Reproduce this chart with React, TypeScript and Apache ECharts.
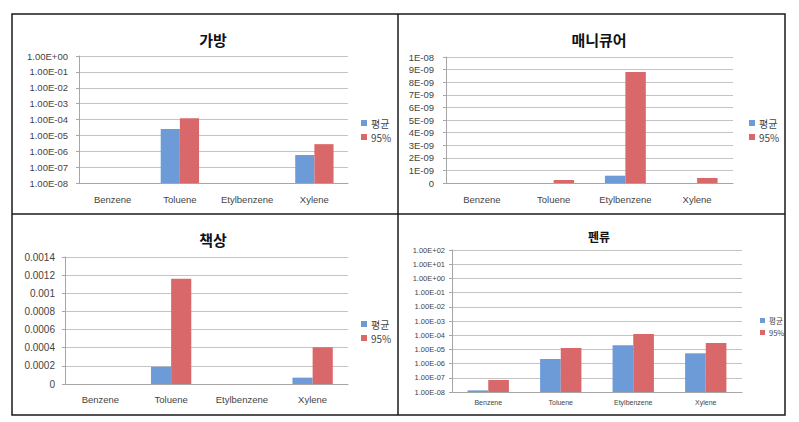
import React, { useEffect, useRef } from 'react';
import * as echarts from 'echarts';

const categories = ['Benzene', 'Toluene', 'Etylbenzene', 'Xylene'];
const seriesNames = ['평균', '95%'];
const titles = ['가방', '매니큐어', '책상', '펜류'];

// 가방 (log scale)
const bagMean = [null, 2.5e-5, null, 5.8e-7];
const bag95 = [null, 1.2e-4, null, 2.8e-6];
// 매니큐어 (linear)
const nailMean = [null, null, 5.8e-10, null];
const nail95 = [null, 2.4e-10, 8.8e-9, 4.0e-10];
// 책상 (linear)
const deskMean = [null, 0.00019, null, 0.00007];
const desk95 = [null, 0.00116, null, 0.000405];
// 펜류 (log scale)
const penMean = [1.3e-8, 2.1e-6, 2.0e-5, 5.3e-6];
const pen95 = [7.0e-8, 1.25e-5, 1.2e-4, 2.8e-5];

const bagTicks = ['1.00E-08', '1.00E-07', '1.00E-06', '1.00E-05', '1.00E-04', '1.00E-03', '1.00E-02', '1.00E-01', '1.00E+00'];
const nailTicks = ['0', '1E-09', '2E-09', '3E-09', '4E-09', '5E-09', '6E-09', '7E-09', '8E-09', '9E-09', '1E-08'];
const deskTicks = ['0', '0.0002', '0.0004', '0.0006', '0.0008', '0.001', '0.0012', '0.0014'];
const penTicks = ['1.00E-08', '1.00E-07', '1.00E-06', '1.00E-05', '1.00E-04', '1.00E-03', '1.00E-02', '1.00E-01', '1.00E+00', '1.00E+01', '1.00E+02'];

const LOG_FLOOR = 1e-8;
const toLog = (arr: (number | null)[]) =>
  arr.map((v) => (v == null ? null : Math.log10(v) - Math.log10(LOG_FLOOR)));

const BLUE = '#6d9bd8';
const RED = '#d9686a';
const FONT = '"Liberation Sans", Arial, sans-serif';
const KFONT = '"Noto Sans CJK KR", sans-serif';

export default function App() {
  const ref = useRef<HTMLDivElement>(null);
  useEffect(() => {
    if (!ref.current) return;
    const chart = echarts.init(ref.current, undefined, { renderer: 'svg' });

    const grids = [
      { left: 79, top: 56, width: 269, height: 127 },
      { left: 446, top: 57, width: 287, height: 126 },
      { left: 65, top: 257, width: 283, height: 127 },
      { left: 452, top: 250, width: 290, height: 142 },
    ];
    const xFont = [9.5, 9.5, 9.5, 7];
    const xMargin = [11, 11, 10, 7];
    const yFont = [9.5, 9.5, 10, 7.5];
    const yMargin = [11, 12, 10, 7];

    const yAxisDefs = [
      { min: 0, max: 8, interval: 1, fmt: (v: number) => bagTicks[Math.round(v)] },
      { min: 0, max: 1e-8, interval: 1e-9, fmt: (v: number) => nailTicks[Math.round(v / 1e-9)] },
      { min: 0, max: 0.0014, interval: 0.0002, fmt: (v: number) => deskTicks[Math.round(v / 0.0002)] },
      { min: 0, max: 10, interval: 1, fmt: (v: number) => penTicks[Math.round(v)] },
    ];

    const dataSets = [
      [toLog(bagMean), toLog(bag95)],
      [nailMean, nail95],
      [deskMean, desk95],
      [toLog(penMean), toLog(pen95)],
    ];

    const titleDefs = [
      { x: 208, y: 27, size: 15 },
      { x: 594, y: 27, size: 15 },
      { x: 208, y: 227, size: 15 },
      { x: 594, y: 225, size: 12 },
    ];
    const legendDefs = [
      { x: 361, y: 117, gap: 2, size: 10, lh: 12, icon: 6 },
      { x: 749, y: 117, gap: 2, size: 10, lh: 12, icon: 6 },
      { x: 361, y: 318, gap: 2, size: 10, lh: 12, icon: 6 },
      { x: 760, y: 316, gap: 3, size: 7.5, lh: 9, icon: 5 },
    ];

    const series: any[] = [];
    dataSets.forEach((pair, gi) => {
      pair.forEach((data, si) => {
        series.push({
          type: 'bar',
          name: seriesNames[si],
          xAxisIndex: gi,
          yAxisIndex: gi,
          data,
          barGap: '0%',
          barCategoryGap: '43%',
          itemStyle: { color: si === 0 ? BLUE : RED },
        });
      });
    });

    chart.setOption({
      animation: false,
      backgroundColor: '#ffffff',
      title: titleDefs.map((t, i) => ({
        text: titles[i],
        left: t.x,
        top: t.y,
        textAlign: 'center',
        textStyle: { fontSize: t.size, fontWeight: 'bold', color: '#111', fontFamily: KFONT },
      })),
      legend: legendDefs.map((l) => ({
        data: seriesNames,
        orient: 'vertical',
        left: l.x,
        top: l.y,
        padding: 0,
        itemWidth: l.icon,
        itemHeight: l.icon,
        itemGap: l.gap,
        icon: 'rect',
        selectedMode: false,
        textStyle: { fontSize: l.size, lineHeight: l.lh, color: '#444', fontFamily: KFONT, padding: [0, 0, 0, -1] },
      })),
      grid: grids.map((g) => ({ ...g, containLabel: false })),
      xAxis: grids.map((_, i) => ({
        type: 'category',
        gridIndex: i,
        data: categories,
        axisLine: { lineStyle: { color: '#a6a6a6' } },
        axisTick: { show: false },
        axisLabel: { interval: 0, fontSize: xFont[i], color: '#444', margin: xMargin[i], fontFamily: FONT },
      })),
      yAxis: yAxisDefs.map((d, i) => ({
        type: 'value',
        gridIndex: i,
        min: d.min,
        max: d.max,
        interval: d.interval,
        axisLine: { show: true, lineStyle: { color: '#a6a6a6' } },
        axisTick: { show: true, length: 3, lineStyle: { color: '#a6a6a6' } },
        splitLine: { lineStyle: { color: '#c4c4c4' } },
        axisLabel: { fontSize: yFont[i], color: '#444', margin: yMargin[i], fontFamily: FONT, formatter: d.fmt },
      })),
      series,
      graphic: [
        { type: 'rect', shape: { x: 12, y: 14, width: 773, height: 401 }, style: { fill: 'none', stroke: '#1a1a1a', lineWidth: 1.5 }, silent: true },
        { type: 'line', shape: { x1: 398, y1: 14, x2: 398, y2: 415 }, style: { stroke: '#1a1a1a', lineWidth: 1.5 }, silent: true },
        { type: 'line', shape: { x1: 12, y1: 214, x2: 785, y2: 214 }, style: { stroke: '#1a1a1a', lineWidth: 1.5 }, silent: true },
      ],
    });
    return () => chart.dispose();
  }, []);
  return <div ref={ref} style={{ position: 'fixed', left: 0, top: 0, width: 799, height: 422 }} />;
}
